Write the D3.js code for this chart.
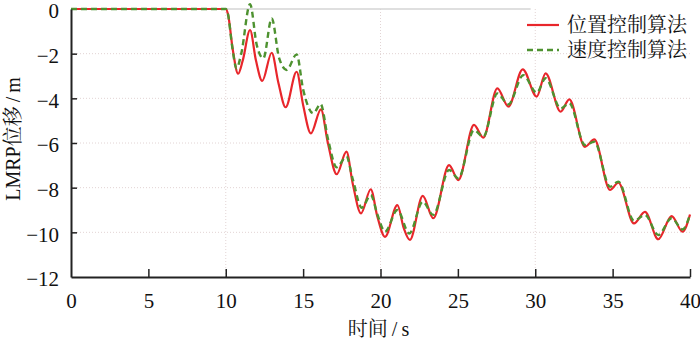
<!DOCTYPE html>
<html>
<head>
<meta charset="utf-8">
<script src="https://cdn.jsdelivr.net/npm/d3@7"></script>
<style>
  body { margin: 0; background: #fff; }
  text { font-family: "Liberation Serif", "Times New Roman", "Noto Serif CJK SC", "Noto Sans CJK SC", serif; }
</style>
</head>
<body>
<svg id="chart"></svg>
<script>
// data (time in s, displacement in m)
var posTime = [0, 10, 10.15, 10.45, 10.8, 11.1, 11.57, 11.95, 12.36, 12.97, 13.4, 13.87, 14.58, 15.0, 15.5,
  16.15, 16.6, 17.17, 17.8, 18.2, 18.74, 19.37, 19.8, 20.29, 21.09, 21.5, 21.9, 22.73, 23.41, 24.43, 25.03,
  26.04, 26.64, 27.55, 28.26, 29.19, 30.09, 30.67, 31.64, 32.2, 33.21, 33.82, 34.83, 35.37, 36.38, 37.09,
  37.95, 38.81, 39.52, 40];
var posVals = [0, 0, -0.25, -1.8, -2.9, -2.3, -0.94, -2.3, -3.22, -1.96, -3.3, -4.4, -2.81, -4.3, -5.57,
  -4.49, -6.0, -7.4, -6.39, -7.8, -9.15, -8.07, -9.3, -10.2, -8.78, -9.8, -10.34, -8.37, -9.37, -6.99, -7.66,
  -5.19, -5.76, -3.55, -4.37, -2.7, -3.92, -2.88, -4.6, -4.05, -6.17, -5.84, -8.1, -7.78, -9.6, -9.08,
  -10.31, -9.27, -9.97, -9.2];

var velTime = [0, 10, 10.15, 10.4, 10.7, 11.0, 11.57, 12.0, 12.43, 12.97, 13.45, 13.94, 14.58, 15.0, 15.66,
  16.13, 16.6, 17.17, 17.8, 18.2, 18.79, 19.37, 19.8, 20.29, 21.09, 21.86, 22.73, 23.41, 24.43, 25.03,
  26.04, 26.64, 27.55, 28.26, 29.23, 30.09, 30.67, 31.64, 32.2, 33.21, 33.82, 34.83, 35.37, 36.38, 37.09,
  37.95, 38.81, 39.52, 40];
var velVals = [0, 0, -0.25, -1.6, -2.66, -2.0, 0.22, -1.6, -2.21, -0.42, -2.2, -2.73, -2.03, -3.6, -4.67,
  -4.25, -5.8, -7.09, -6.61, -7.6, -8.9, -8.33, -9.2, -9.97, -9.0, -10.05, -8.63, -9.22, -7.21, -7.58,
  -5.42, -5.72, -3.78, -4.27, -2.96, -3.75, -3.1, -4.45, -4.22, -6.09, -5.94, -7.96, -7.73, -9.48, -9.22,
  -10.12, -9.37, -9.87, -9.2];

var xTicks = [0, 5, 10, 15, 20, 25, 30, 35, 40];
var yTicks = [0, -2, -4, -6, -8, -10, -12];
var xGrid = [10, 20, 30];
var yGrid = [-2, -4, -6, -8, -10];
var seriesNames = ["位置控制算法", "速度控制算法"];

var margin = {top: 9, right: 10, bottom: 64, left: 71},
    width = 700 - margin.left - margin.right,
    height = 341 - margin.top - margin.bottom;

var svg = d3.select("#chart")
    .attr("width", 700)
    .attr("height", 341)
  .append("g")
    .attr("transform", "translate(" + margin.left + "," + margin.top + ")");

var x = d3.scaleLinear().domain([0, 40]).range([0, width]);
var y = d3.scaleLinear().domain([-12, 0]).range([height, 0]);

// dotted grid
svg.selectAll(".hgrid")
    .data(yGrid)
  .enter().append("line")
    .attr("x1", 0).attr("x2", width)
    .attr("y1", function(d) { return y(d); })
    .attr("y2", function(d) { return y(d); })
    .attr("stroke", "#e2d4d4")
    .attr("stroke-width", 1)
    .attr("stroke-dasharray", "1,2");

svg.selectAll(".vgrid")
    .data(xGrid)
  .enter().append("line")
    .attr("x1", function(d) { return x(d); })
    .attr("x2", function(d) { return x(d); })
    .attr("y1", 0).attr("y2", height)
    .attr("stroke", "#e2d4d4")
    .attr("stroke-width", 1)
    .attr("stroke-dasharray", "1,2");

// light line along y = 0
svg.append("line")
    .attr("x1", x(0)).attr("x2", x(29.7))
    .attr("y1", y(0)).attr("y2", y(0))
    .attr("stroke", "#d4d4d4")
    .attr("stroke-width", 1.5);

// lines
var line = d3.line()
    .x(function(d) { return x(d[0]); })
    .y(function(d) { return y(d[1]); })
    .curve(d3.curveMonotoneX);

var posData = d3.zip(posTime, posVals);
var velData = d3.zip(velTime, velVals);

svg.append("path")
    .datum(posData)
    .attr("fill", "none")
    .attr("stroke", "#e8262b")
    .attr("stroke-width", 2.2)
    .attr("d", line);

svg.append("path")
    .datum(velData)
    .attr("fill", "none")
    .attr("stroke", "#4e9230")
    .attr("stroke-width", 2.4)
    .attr("stroke-dasharray", "6,4")
    .attr("d", line);

// axes (ticks point inwards)
var xAxis = svg.append("g")
    .attr("transform", "translate(0," + height + ")")
    .call(d3.axisBottom(x).tickValues(xTicks).tickSizeInner(-8).tickSizeOuter(0).tickPadding(16));
var yAxis = svg.append("g")
    .call(d3.axisLeft(y).tickValues(yTicks).tickSizeInner(-6).tickSizeOuter(0).tickPadding(12)
      .tickFormat(function(d) { return d < 0 ? "\u2212" + Math.abs(d) : d; }));

[xAxis, yAxis].forEach(function(g) {
  g.select(".domain").attr("stroke", "#222").attr("stroke-width", 2);
  g.selectAll(".tick line").attr("stroke", "#222").attr("stroke-width", 1.5);
  g.selectAll(".tick text")
    .attr("fill", "#111")
    .style("font-size", "21px")
    .style("font-family", "'Liberation Serif', serif");
});
// y labels sit a little below their ticks in the original
yAxis.selectAll(".tick text").attr("dy", "0.42em");
yAxis.selectAll(".tick").filter(function(d) { return d === 0 || d === -12; }).select("line").remove();
xAxis.selectAll(".tick").filter(function(d) { return d === 0; }).select("line").remove();

// axis labels
svg.append("text")
    .attr("x", width / 2 - 2)
    .attr("y", height + 59)
    .attr("text-anchor", "middle")
    .style("font-size", "20px")
    .attr("fill", "#111")
    .text("时间\u2009/\u2009s");

svg.append("text")
    .attr("transform", "rotate(-90)")
    .attr("x", -(139 - margin.top))
    .attr("y", 20 - margin.left)
    .attr("text-anchor", "middle")
    .style("font-size", "20px")
    .attr("fill", "#111")
    .text("LMRP位移\u2009/\u2009m");

// legend
var legend = svg.append("g")
    .attr("transform", "translate(" + (527 - margin.left) + "," + (25 - margin.top) + ")");

legend.append("line")
    .attr("x1", 0).attr("x2", 32).attr("y1", 0).attr("y2", 0)
    .attr("stroke", "#e8262b").attr("stroke-width", 2.2);
legend.append("line")
    .attr("x1", 0).attr("x2", 32).attr("y1", 25).attr("y2", 25)
    .attr("stroke", "#4e9230").attr("stroke-width", 2.4)
    .attr("stroke-dasharray", "6,4");

legend.selectAll(".lab")
    .data(seriesNames)
  .enter().append("text")
    .attr("x", 40)
    .attr("y", function(d, i) { return i * 25 + 7; })
    .style("font-size", "20px")
    .attr("fill", "#111")
    .text(function(d) { return d; });
</script>
</body>
</html>
